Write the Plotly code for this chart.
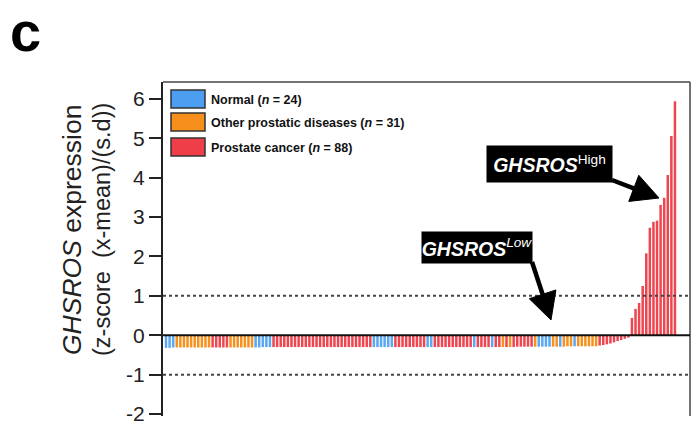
import math
import plotly.graph_objects as go

# ---------------- data ----------------
# group of each sample, sorted by z-score (N = Normal, O = Other prostatic diseases, P = Prostate cancer)
groups = [
    "N", "N", "N", "O", "O", "O", "O", "O", "O", "O",
    "O", "O", "O", "P", "P", "P", "P", "P", "O", "O",
    "O", "O", "O", "O", "O", "N", "N", "N", "N", "N",
    "P", "P", "P", "P", "P", "P", "P", "P", "P", "P",
    "P", "P", "P", "P", "P", "P", "P", "P", "P", "P",
    "P", "P", "P", "P", "P", "P", "P", "P", "N", "N",
    "N", "N", "N", "N", "P", "P", "P", "P", "P", "P",
    "P", "P", "P", "N", "N", "P", "P", "P", "P", "P",
    "P", "P", "P", "P", "P", "P", "N", "P", "P", "P",
    "P", "N", "P", "P", "O", "P", "O", "P", "P", "P",
    "P", "P", "P", "O", "N", "N", "N", "N", "O", "O",
    "N", "O", "O", "O", "N", "O", "O", "O", "O", "O",
    "O", "P", "P", "P", "P", "P", "P", "P", "P", "P",
    "P", "P", "P", "P", "P", "P", "P", "P", "P", "P",
    "P", "P", "P",
]

zscores = [
    -0.32, -0.32, -0.31, -0.31, -0.31, -0.31, -0.31, -0.31, -0.31, -0.31,
    -0.31, -0.31, -0.31, -0.31, -0.31, -0.31, -0.31, -0.31, -0.31, -0.31,
    -0.31, -0.31, -0.31, -0.31, -0.31, -0.31, -0.31, -0.30, -0.30, -0.30,
    -0.30, -0.30, -0.30, -0.30, -0.30, -0.30, -0.30, -0.30, -0.30, -0.30,
    -0.30, -0.30, -0.30, -0.30, -0.30, -0.30, -0.30, -0.30, -0.30, -0.30,
    -0.30, -0.30, -0.30, -0.30, -0.30, -0.30, -0.30, -0.30, -0.30, -0.30,
    -0.30, -0.30, -0.30, -0.30, -0.30, -0.30, -0.30, -0.30, -0.30, -0.30,
    -0.30, -0.30, -0.30, -0.30, -0.30, -0.30, -0.30, -0.30, -0.30, -0.30,
    -0.30, -0.30, -0.30, -0.30, -0.30, -0.30, -0.30, -0.30, -0.30, -0.30,
    -0.30, -0.30, -0.30, -0.30, -0.30, -0.30, -0.30, -0.30, -0.29, -0.29,
    -0.29, -0.29, -0.29, -0.29, -0.29, -0.29, -0.29, -0.29, -0.29, -0.29,
    -0.29, -0.29, -0.28, -0.28, -0.28, -0.28, -0.28, -0.28, -0.28, -0.28,
    -0.28, -0.26, -0.25, -0.23, -0.21, -0.18, -0.15, -0.12, -0.09, -0.06,
    0.44, 0.67, 0.82, 1.25, 2.08, 2.73, 2.88, 2.91, 3.31, 3.49,
    4.07, 5.06, 5.94,
]

group_labels = {
    "N": "<b>Normal (<i>n</i> = 24)</b>",
    "O": "<b>Other prostatic diseases (<i>n</i> = 31)</b>",
    "P": "<b>Prostate cancer (<i>n</i> = 88)</b>",
}
y_ticks = [-2, -1, 0, 1, 2, 3, 4, 5, 6]
ref_lines = [1, -1]

# ---------------- styles ----------------
bar_colors = {"N": "#5AA7F2", "O": "#F5921F", "P": "#EE4650"}
swatch_colors = {"N": "#4C9FF0", "O": "#F78F1C", "P": "#EF3E48"}
FONT = "Liberation Sans, Arial, Helvetica, sans-serif"
INK = "#222222"

# plot-area pixel geometry helpers
L, R, T, B = 163, 690, 82, 416
W, H = 694, 424


def px(x):
    return (x - L) / (R - L)


def py(y):
    return (B - y) / (B - T)


fig = go.Figure()
fig.add_trace(go.Bar(
    x=list(range(len(zscores))),
    y=zscores,
    marker=dict(color=[bar_colors[g] for g in groups], line=dict(width=0)),
    hoverinfo="y",
))

shapes = []
# frame (top and right)
shapes.append(dict(type="line", xref="paper", yref="paper", x0=0, x1=1, y0=1, y1=1,
                   line=dict(color="#444444", width=1.5)))
shapes.append(dict(type="line", xref="paper", yref="paper", x0=1, x1=1, y0=0, y1=1,
                   line=dict(color="#444444", width=1.5)))
# zero line
shapes.append(dict(type="line", xref="paper", yref="y", x0=0, x1=1, y0=0, y1=0,
                   line=dict(color="#111111", width=2), layer="above"))
# dotted reference lines
for v in ref_lines:
    shapes.append(dict(type="line", xref="paper", yref="y", x0=0, x1=1, y0=v, y1=v,
                       line=dict(color="#444444", width=2, dash="dot"), layer="above"))


def arrow(tail, tip, head_len=27, head_half=14, width=4.5):
    """Thick black arrow (line + triangular head) given pixel tail/tip."""
    dx, dy = tip[0] - tail[0], tip[1] - tail[1]
    n = math.hypot(dx, dy)
    ux, uy = dx / n, dy / n
    bx, by = tip[0] - head_len * ux, tip[1] - head_len * uy
    nx, ny = -uy, ux
    c1 = (bx + head_half * nx, by + head_half * ny)
    c2 = (bx - head_half * nx, by - head_half * ny)
    out = [dict(type="line", xref="paper", yref="paper",
                x0=px(tail[0]), y0=py(tail[1]), x1=px(bx + 2 * ux), y1=py(by + 2 * uy),
                line=dict(color="#000000", width=width), layer="above")]
    path = "M {} {} L {} {} L {} {} Z".format(px(tip[0]), py(tip[1]), px(c1[0]), py(c1[1]),
                                               px(c2[0]), py(c2[1]))
    out.append(dict(type="path", xref="paper", yref="paper", path=path,
                    fillcolor="#000000", line=dict(color="#000000", width=1), layer="above"))
    return out


annotations = []
# legend
legend_rows = [("N", 90, 108), ("O", 113, 131), ("P", 138, 156)]
for g, y0, y1 in legend_rows:
    shapes.append(dict(type="rect", xref="paper", yref="paper",
                       x0=px(171), x1=px(205), y0=py(y1), y1=py(y0),
                       fillcolor=swatch_colors[g], line=dict(color="#333333", width=1.5),
                       layer="above"))
    annotations.append(dict(xref="paper", yref="paper", x=px(209), y=py((y0 + y1) / 2 + 1),
                            xanchor="left", yanchor="middle", showarrow=False,
                            text=group_labels[g], font=dict(family=FONT, size=12.5, color="#111111")))

# panel letter
annotations.append(dict(xref="paper", yref="paper", x=px(25), y=py(31), xanchor="center",
                        yanchor="middle", showarrow=False, text="<b>c</b>",
                        font=dict(family=FONT, size=56, color="#000000")))

# y-axis title (two lines)
annotations.append(dict(xref="paper", yref="paper", x=px(72), y=py(230), xanchor="center",
                        yanchor="middle", showarrow=False, textangle=-90,
                        text="<i>GHSROS</i> expression",
                        font=dict(family=FONT, size=26.5, color=INK)))
annotations.append(dict(xref="paper", yref="paper", x=px(102), y=py(230), xanchor="center",
                        yanchor="middle", showarrow=False, textangle=-90,
                        text="(z-score \u00a0(x-mean)/(s.d))",
                        font=dict(family=FONT, size=23.5, color=INK)))

# label boxes
annotations.append(dict(xref="paper", yref="paper", x=px(549.5), y=py(164), xanchor="center",
                        yanchor="middle", showarrow=False, bgcolor="#000000", borderpad=0,
                        width=125, height=36,
                        text="<b><i>GHSROS</i></b><sup>High</sup>",
                        font=dict(family=FONT, size=19.5, color="#FFFFFF")))
annotations.append(dict(xref="paper", yref="paper", x=px(477), y=py(247.5), xanchor="center",
                        yanchor="middle", showarrow=False, bgcolor="#000000", borderpad=0,
                        width=110, height=31,
                        text="<b><i>GHSROS</i></b><i><sup>Low</sup></i>",
                        font=dict(family=FONT, size=19.5, color="#FFFFFF")))
# arrows
shapes += arrow((612, 180), (659, 198))
shapes += arrow((532, 262), (551, 320))

fig.update_layout(
    width=W, height=H,
    margin=dict(l=L, r=W - R, t=T, b=H - B, pad=0, autoexpand=False),
    plot_bgcolor="white", paper_bgcolor="white",
    showlegend=False,
    bargap=0.3,
    shapes=shapes,
    annotations=annotations,
    xaxis=dict(range=[-0.84, 146.2], visible=False, showgrid=False, zeroline=False,
               automargin=False),
    yaxis=dict(range=[-2.05, 6.43], tickvals=y_ticks, ticktext=[str(v) for v in y_ticks],
               ticks="outside", ticklen=12, tickwidth=2, tickcolor=INK,
               showline=True, linewidth=2, linecolor=INK, automargin=False,
               showgrid=False, zeroline=False, ticklabeloverflow="allow",
               tickfont=dict(family=FONT, size=21, color=INK)),
)

fig.write_html("out.html")
